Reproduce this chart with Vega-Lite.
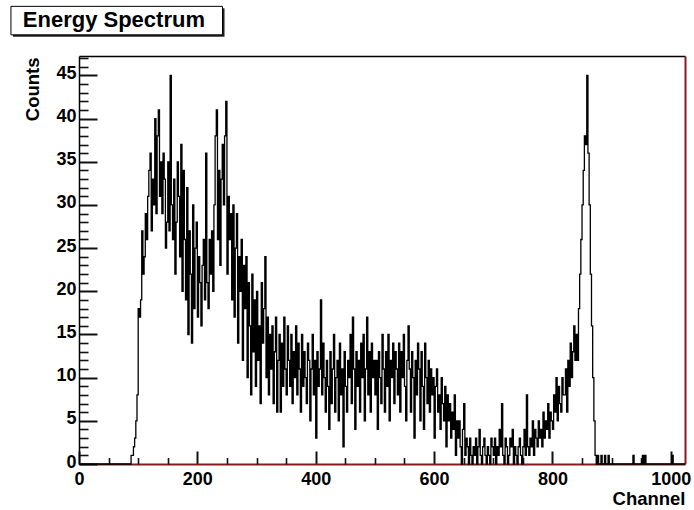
{
  "$schema": "https://vega.github.io/schema/vega-lite/v6.json",
  "width": 606,
  "height": 408,
  "autosize": "none",
  "padding": {"left": 79, "top": 56, "right": 9, "bottom": 46},
  "background": "white",
  "config": {
    "view": {"stroke": null},
    "font": "Liberation Sans",
    "axis": {"grid": false, "zindex": 1, "labelFont": "Liberation Sans", "titleFont": "Liberation Sans", "labelColor": "black", "titleColor": "black"}
  },
  "data": {
    "values": [
      {"ch":0,"n":0},
      {"ch":88,"n":1},{"ch":90,"n":1},{"ch":92,"n":2},{"ch":94,"n":3},{"ch":96,"n":5},{"ch":98,"n":8},
      {"ch":100,"n":18},{"ch":102,"n":17},{"ch":104,"n":19},{"ch":106,"n":27},{"ch":108,"n":22},{"ch":110,"n":24},{"ch":112,"n":29},{"ch":114,"n":26},{"ch":116,"n":31},{"ch":118,"n":34},
      {"ch":120,"n":36},{"ch":122,"n":27},{"ch":124,"n":33},{"ch":126,"n":30},{"ch":128,"n":40},{"ch":130,"n":29},{"ch":132,"n":38},{"ch":134,"n":41},{"ch":136,"n":31},{"ch":138,"n":35},
      {"ch":140,"n":29},{"ch":142,"n":36},{"ch":144,"n":33},{"ch":146,"n":25},{"ch":148,"n":28},{"ch":150,"n":35},{"ch":152,"n":27},{"ch":154,"n":45},{"ch":156,"n":30},{"ch":158,"n":26},
      {"ch":160,"n":33},{"ch":162,"n":22},{"ch":164,"n":28},{"ch":166,"n":35},{"ch":168,"n":31},{"ch":170,"n":24},{"ch":172,"n":37},{"ch":174,"n":20},{"ch":176,"n":34},{"ch":178,"n":26},
      {"ch":180,"n":19},{"ch":182,"n":32},{"ch":184,"n":15},{"ch":186,"n":27},{"ch":188,"n":22},{"ch":190,"n":14},{"ch":192,"n":30},{"ch":194,"n":18},{"ch":196,"n":25},{"ch":198,"n":28},
      {"ch":200,"n":17},{"ch":202,"n":24},{"ch":204,"n":21},{"ch":206,"n":16},{"ch":208,"n":23},{"ch":210,"n":26},{"ch":212,"n":19},{"ch":214,"n":36},{"ch":216,"n":21},{"ch":218,"n":18},
      {"ch":220,"n":26},{"ch":222,"n":22},{"ch":224,"n":27},{"ch":226,"n":20},{"ch":228,"n":30},{"ch":230,"n":38},{"ch":232,"n":41},{"ch":234,"n":26},{"ch":236,"n":34},{"ch":238,"n":23},
      {"ch":240,"n":33},{"ch":242,"n":37},{"ch":244,"n":30},{"ch":246,"n":38},{"ch":248,"n":42},{"ch":250,"n":22},{"ch":252,"n":31},{"ch":254,"n":26},{"ch":256,"n":29},{"ch":258,"n":19},
      {"ch":260,"n":30},{"ch":262,"n":17},{"ch":264,"n":25},{"ch":266,"n":29},{"ch":268,"n":14},{"ch":270,"n":24},{"ch":272,"n":20},{"ch":274,"n":26},{"ch":276,"n":12},{"ch":278,"n":23},
      {"ch":280,"n":18},{"ch":282,"n":24},{"ch":284,"n":10},{"ch":286,"n":21},{"ch":288,"n":16},{"ch":290,"n":8},{"ch":292,"n":22},{"ch":294,"n":13},{"ch":296,"n":19},{"ch":298,"n":9},
      {"ch":300,"n":20},{"ch":302,"n":12},{"ch":304,"n":16},{"ch":306,"n":7},{"ch":308,"n":21},{"ch":310,"n":14},{"ch":312,"n":18},{"ch":314,"n":24},{"ch":316,"n":10},{"ch":318,"n":17},
      {"ch":320,"n":8},{"ch":322,"n":15},{"ch":324,"n":11},{"ch":326,"n":16},{"ch":328,"n":7},{"ch":330,"n":13},{"ch":332,"n":17},{"ch":334,"n":6},{"ch":336,"n":12},{"ch":338,"n":15},
      {"ch":340,"n":6},{"ch":342,"n":14},{"ch":344,"n":9},{"ch":346,"n":17},{"ch":348,"n":11},{"ch":350,"n":8},{"ch":352,"n":16},{"ch":354,"n":12},{"ch":356,"n":9},{"ch":358,"n":15},
      {"ch":360,"n":7},{"ch":362,"n":13},{"ch":364,"n":10},{"ch":366,"n":16},{"ch":368,"n":8},{"ch":370,"n":14},{"ch":372,"n":11},{"ch":374,"n":6},{"ch":376,"n":15},{"ch":378,"n":9},
      {"ch":380,"n":13},{"ch":382,"n":10},{"ch":384,"n":7},{"ch":386,"n":14},{"ch":388,"n":12},{"ch":390,"n":5},{"ch":392,"n":11},{"ch":394,"n":15},{"ch":396,"n":8},{"ch":398,"n":12},
      {"ch":400,"n":3},{"ch":402,"n":13},{"ch":404,"n":9},{"ch":406,"n":11},{"ch":408,"n":19},{"ch":410,"n":8},{"ch":412,"n":14},{"ch":414,"n":10},{"ch":416,"n":6},{"ch":418,"n":12},
      {"ch":420,"n":9},{"ch":422,"n":4},{"ch":424,"n":13},{"ch":426,"n":7},{"ch":428,"n":11},{"ch":430,"n":15},{"ch":432,"n":6},{"ch":434,"n":10},{"ch":436,"n":12},{"ch":438,"n":5},
      {"ch":440,"n":14},{"ch":442,"n":8},{"ch":444,"n":11},{"ch":446,"n":2},{"ch":448,"n":13},{"ch":450,"n":9},{"ch":452,"n":6},{"ch":454,"n":12},{"ch":456,"n":10},{"ch":458,"n":15},
      {"ch":460,"n":7},{"ch":462,"n":17},{"ch":464,"n":11},{"ch":466,"n":4},{"ch":468,"n":13},{"ch":470,"n":9},{"ch":472,"n":12},{"ch":474,"n":6},{"ch":476,"n":14},{"ch":478,"n":10},
      {"ch":480,"n":15},{"ch":482,"n":5},{"ch":484,"n":11},{"ch":486,"n":17},{"ch":488,"n":8},{"ch":490,"n":13},{"ch":492,"n":6},{"ch":494,"n":14},{"ch":496,"n":10},{"ch":498,"n":12},
      {"ch":500,"n":8},{"ch":502,"n":12},{"ch":504,"n":4},{"ch":506,"n":13},{"ch":508,"n":10},{"ch":510,"n":7},{"ch":512,"n":15},{"ch":514,"n":11},{"ch":516,"n":6},{"ch":518,"n":13},
      {"ch":520,"n":9},{"ch":522,"n":15},{"ch":524,"n":5},{"ch":526,"n":12},{"ch":528,"n":10},{"ch":530,"n":14},{"ch":532,"n":7},{"ch":534,"n":13},{"ch":536,"n":11},{"ch":538,"n":8},
      {"ch":540,"n":14},{"ch":542,"n":6},{"ch":544,"n":13},{"ch":546,"n":10},{"ch":548,"n":15},{"ch":550,"n":9},{"ch":552,"n":5},{"ch":554,"n":12},{"ch":556,"n":16},{"ch":558,"n":11},
      {"ch":560,"n":6},{"ch":562,"n":13},{"ch":564,"n":10},{"ch":566,"n":3},{"ch":568,"n":12},{"ch":570,"n":8},{"ch":572,"n":14},{"ch":574,"n":11},{"ch":576,"n":5},{"ch":578,"n":13},
      {"ch":580,"n":9},{"ch":582,"n":4},{"ch":584,"n":14},{"ch":586,"n":10},{"ch":588,"n":7},{"ch":590,"n":12},{"ch":592,"n":6},{"ch":594,"n":11},{"ch":596,"n":8},{"ch":598,"n":10},
      {"ch":600,"n":3},{"ch":602,"n":9},{"ch":604,"n":11},{"ch":606,"n":6},{"ch":608,"n":8},{"ch":610,"n":4},{"ch":612,"n":10},{"ch":614,"n":7},{"ch":616,"n":5},{"ch":618,"n":9},
      {"ch":620,"n":2},{"ch":622,"n":8},{"ch":624,"n":5},{"ch":626,"n":7},{"ch":628,"n":3},{"ch":630,"n":6},{"ch":632,"n":4},{"ch":634,"n":8},{"ch":636,"n":1},{"ch":638,"n":5},
      {"ch":640,"n":3},{"ch":642,"n":5},{"ch":644,"n":2},{"ch":646,"n":0},{"ch":648,"n":4},{"ch":650,"n":7},{"ch":652,"n":1},{"ch":654,"n":3},{"ch":656,"n":2},{"ch":658,"n":0},
      {"ch":660,"n":3},{"ch":662,"n":1},{"ch":664,"n":0},{"ch":666,"n":2},{"ch":668,"n":1},{"ch":670,"n":3},{"ch":672,"n":0},{"ch":674,"n":2},{"ch":676,"n":4},{"ch":678,"n":1},
      {"ch":680,"n":0},{"ch":682,"n":2},{"ch":684,"n":3},{"ch":686,"n":1},{"ch":688,"n":0},{"ch":690,"n":2},{"ch":692,"n":1},{"ch":694,"n":0},{"ch":696,"n":3},{"ch":698,"n":2},
      {"ch":700,"n":1},{"ch":702,"n":3},{"ch":704,"n":0},{"ch":706,"n":2},{"ch":708,"n":1},{"ch":710,"n":4},{"ch":712,"n":2},{"ch":714,"n":7},{"ch":716,"n":1},{"ch":718,"n":0},
      {"ch":720,"n":3},{"ch":722,"n":2},{"ch":724,"n":0},{"ch":726,"n":1},{"ch":728,"n":3},{"ch":730,"n":2},{"ch":732,"n":4},{"ch":734,"n":0},{"ch":736,"n":2},{"ch":738,"n":1},
      {"ch":740,"n":0},{"ch":742,"n":2},{"ch":744,"n":3},{"ch":746,"n":1},{"ch":748,"n":0},{"ch":750,"n":2},{"ch":752,"n":4},{"ch":754,"n":1},{"ch":756,"n":8},{"ch":758,"n":2},
      {"ch":760,"n":1},{"ch":762,"n":3},{"ch":764,"n":2},{"ch":766,"n":5},{"ch":768,"n":1},{"ch":770,"n":4},{"ch":772,"n":3},{"ch":774,"n":2},{"ch":776,"n":5},{"ch":778,"n":3},
      {"ch":780,"n":4},{"ch":782,"n":2},{"ch":784,"n":6},{"ch":786,"n":3},{"ch":788,"n":5},{"ch":790,"n":4},{"ch":792,"n":7},{"ch":794,"n":3},{"ch":796,"n":6},{"ch":798,"n":5},
      {"ch":800,"n":4},{"ch":802,"n":8},{"ch":804,"n":6},{"ch":806,"n":10},{"ch":808,"n":5},{"ch":810,"n":9},{"ch":812,"n":7},{"ch":814,"n":6},{"ch":816,"n":10},{"ch":818,"n":8},
      {"ch":820,"n":8},{"ch":822,"n":11},{"ch":824,"n":6},{"ch":826,"n":12},{"ch":828,"n":9},{"ch":830,"n":14},{"ch":832,"n":10},{"ch":834,"n":13},{"ch":836,"n":16},{"ch":838,"n":12},
      {"ch":840,"n":15},{"ch":842,"n":12},{"ch":844,"n":18},{"ch":846,"n":22},{"ch":848,"n":26},{"ch":850,"n":30},{"ch":852,"n":34},{"ch":854,"n":38},{"ch":856,"n":37},{"ch":858,"n":45},
      {"ch":860,"n":36},{"ch":862,"n":30},{"ch":864,"n":22},{"ch":866,"n":16},{"ch":868,"n":10},{"ch":870,"n":5},{"ch":872,"n":1},{"ch":874,"n":0},{"ch":876,"n":1},{"ch":878,"n":0},
      {"ch":880,"n":0},{"ch":882,"n":1},{"ch":884,"n":0},{"ch":886,"n":0},{"ch":888,"n":1},{"ch":890,"n":0},{"ch":892,"n":0},{"ch":894,"n":1},{"ch":896,"n":0},
      {"ch":936,"n":1},{"ch":938,"n":0},{"ch":952,"n":1},{"ch":954,"n":0},{"ch":956,"n":1},{"ch":958,"n":0},{"ch":1002,"n":1},{"ch":1004,"n":0},{"ch":1024,"n":0}
    ]
  },
  "layer": [
    {
      "mark": {"type": "line", "interpolate": "step-after", "color": "black", "strokeWidth": 1.3},
      "encoding": {
        "x": {
          "field": "ch", "type": "quantitative",
          "scale": {"domain": [0, 1024], "nice": false},
          "axis": {
            "orient": "bottom", "values": [0, 200, 400, 600, 800, 1000], "format": "d",
            "tickSize": -13, "tickWidth": 2, "tickColor": "#111111", "domainColor": "#8a1a1a", "domainWidth": 2,
            "labelFontSize": 18, "labelFontWeight": "bold", "labelPadding": 19.5, "labelBaseline": "top", "labelFlush": false, "labelOverlap": false,
            "title": "Channel", "titleFontSize": 18.5, "titleFontWeight": "bold",
            "titleX": 606, "titleY": 40, "titleAlign": "right", "titleBaseline": "alphabetic", "titleAnchor": "end"
          }
        },
        "y": {
          "field": "n", "type": "quantitative",
          "scale": {"domain": [0, 47.25], "nice": false},
          "axis": {
            "orient": "left", "values": [0, 5, 10, 15, 20, 25, 30, 35, 40, 45], "format": "d",
            "tickSize": -18, "tickWidth": 2, "tickColor": "#111111", "domainColor": "black", "domainWidth": 1.5,
            "labelFontSize": 18, "labelFontWeight": "bold", "labelPadding": 21, "labelOffset": -2, "labelFlush": false, "labelOverlap": false,
            "title": "Counts", "titleFontSize": 18.5, "titleFontWeight": "bold", "titleAngle": 270,
            "titleX": -47, "titleY": 1, "titleAlign": "right", "titleBaseline": "middle", "titleAnchor": "end"
          }
        }
      }
    },
    {
      "data": {"values": [{"part": "shadow"}]},
      "mark": {"type": "rect", "fill": "#222222"},
      "encoding": {
        "x": {"datum": -111.6, "type": "quantitative", "scale": {"domain": [0, 1024], "nice": false},
          "axis": {"orient": "bottom", "values": [50, 100, 150, 250, 300, 350, 450, 500, 550, 650, 700, 750, 850, 900, 950], "tickSize": -6.5, "tickWidth": 1.6, "tickColor": "#111111", "labels": false, "domain": false, "title": null}},
        "x2": {"datum": 245.9},
        "y": {"datum": 52.77, "type": "quantitative", "scale": {"domain": [0, 47.25], "nice": false},
          "axis": {"orient": "left", "values": [1, 2, 3, 4, 6, 7, 8, 9, 11, 12, 13, 14, 16, 17, 18, 19, 21, 22, 23, 24, 26, 27, 28, 29, 31, 32, 33, 34, 36, 37, 38, 39, 41, 42, 43, 44, 46, 47], "tickSize": -9, "tickWidth": 1.6, "tickColor": "#111111", "labels": false, "domain": false, "title": null}},
        "y2": {"datum": 49.47}
      }
    },
    {
      "data": {"values": [{"part": "box"}]},
      "mark": {"type": "rect", "fill": "white", "stroke": "black", "strokeWidth": 1},
      "encoding": {
        "x": {"datum": -115, "type": "quantitative", "scale": {"domain": [0, 1024], "nice": false},
          "axis": {"orient": "top", "ticks": false, "labels": false, "domain": true, "domainColor": "black", "domainWidth": 1.5, "title": null}},
        "x2": {"datum": 242.5},
        "y": {"datum": 53.0, "type": "quantitative", "scale": {"domain": [0, 47.25], "nice": false},
          "axis": {"orient": "right", "ticks": false, "labels": false, "domain": true, "domainColor": "#8a1a1a", "domainWidth": 2, "title": null}},
        "y2": {"datum": 49.7}
      }
    },
    {
      "data": {"values": [{"label": "Energy Spectrum"}]},
      "mark": {"type": "text", "align": "left", "baseline": "alphabetic", "font": "Liberation Sans", "fontSize": 22, "fontWeight": "bold", "color": "black"},
      "encoding": {
        "text": {"field": "label"},
        "x": {"datum": -95, "type": "quantitative", "scale": {"domain": [0, 1024], "nice": false}, "axis": null},
        "y": {"datum": 50.57, "type": "quantitative", "scale": {"domain": [0, 47.25], "nice": false}, "axis": null}
      }
    }
  ],
  "resolve": {"axis": {"x": "independent", "y": "independent"}}
}
